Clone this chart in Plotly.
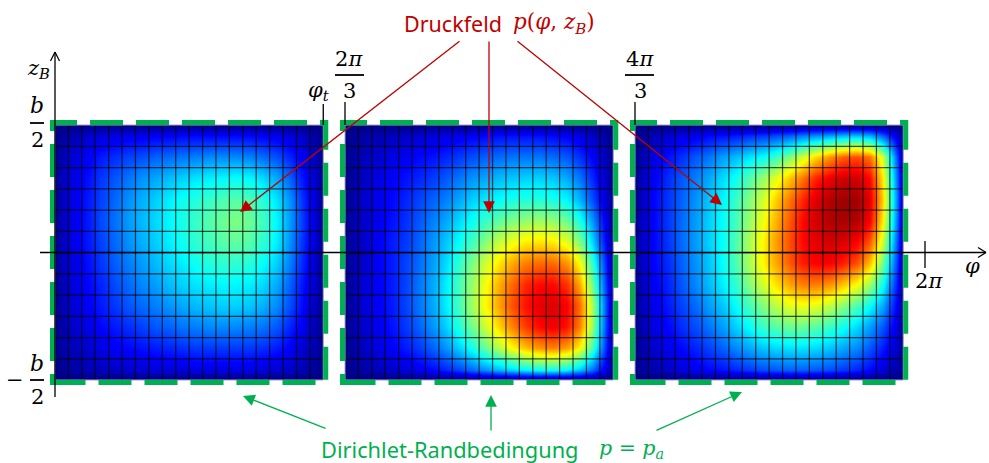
import numpy as np
import plotly.graph_objects as go

# ---- sector geometry: φ in degrees, z_B normalised so that b/2 = 1 ----
SECTOR_START = [0.0, 120.0, 240.0]      # 0, 2π/3, 4π/3
PHI_T = 111.0                            # sector width φ_t
N_PHI, N_Z = 20, 12                      # mesh cells per sector
P_A = 0                                  # ambient pressure on the boundary

# ---- cell-centred pressure (0 … 100), rows from z_B = +b/2 down to −b/2 ----
p_sector1 = [
    [3, 5, 8, 9, 10, 11, 11, 12, 12, 13, 13, 13, 13, 13, 13, 12, 11, 9, 7, 3],
    [5, 9, 12, 15, 17, 19, 20, 22, 23, 24, 25, 26, 26, 26, 25, 23, 20, 16, 11, 5],
    [6, 10, 14, 18, 21, 24, 27, 29, 31, 33, 35, 36, 37, 38, 37, 34, 29, 22, 14, 6],
    [6, 11, 15, 19, 23, 27, 30, 33, 36, 39, 41, 43, 45, 46, 45, 41, 35, 27, 17, 7],
    [6, 11, 15, 20, 24, 28, 31, 34, 37, 40, 43, 46, 48, 50, 48, 44, 37, 28, 18, 7],
    [6, 11, 15, 19, 23, 27, 30, 33, 36, 39, 42, 44, 46, 47, 46, 42, 36, 27, 17, 7],
    [6, 10, 14, 18, 22, 25, 28, 31, 34, 36, 39, 41, 42, 42, 41, 38, 33, 25, 16, 6],
    [5, 10, 13, 16, 20, 23, 26, 28, 31, 33, 35, 36, 37, 37, 36, 34, 29, 22, 14, 6],
    [5, 9, 12, 15, 18, 21, 23, 25, 27, 29, 31, 32, 33, 33, 32, 30, 26, 20, 13, 5],
    [4, 8, 10, 13, 15, 17, 19, 21, 22, 24, 25, 26, 26, 26, 25, 24, 21, 16, 11, 4],
    [4, 6, 8, 10, 12, 13, 14, 15, 16, 17, 18, 18, 18, 18, 18, 17, 15, 12, 8, 4],
    [2, 4, 5, 6, 7, 8, 8, 9, 9, 9, 10, 10, 10, 10, 10, 9, 8, 7, 5, 2],
]
p_sector2 = [
    [2, 4, 5, 6, 7, 8, 9, 10, 11, 12, 13, 14, 14, 14, 14, 13, 12, 10, 7, 3],
    [3, 6, 8, 10, 11, 13, 14, 16, 18, 20, 22, 23, 24, 24, 24, 23, 21, 17, 12, 5],
    [3, 7, 10, 12, 14, 16, 18, 21, 24, 27, 29, 31, 32, 33, 33, 32, 29, 24, 16, 6],
    [4, 8, 11, 13, 16, 19, 22, 25, 29, 33, 36, 38, 40, 41, 41, 40, 37, 30, 20, 7],
    [4, 8, 11, 14, 17, 21, 25, 29, 34, 39, 43, 47, 50, 52, 53, 52, 48, 40, 27, 9],
    [4, 8, 12, 15, 18, 22, 27, 32, 38, 44, 51, 57, 61, 64, 65, 64, 60, 50, 33, 11],
    [4, 8, 12, 15, 19, 23, 28, 34, 42, 50, 58, 65, 71, 75, 77, 77, 73, 62, 42, 14],
    [4, 9, 12, 15, 19, 24, 29, 36, 44, 53, 62, 71, 78, 84, 87, 87, 83, 71, 48, 16],
    [4, 9, 12, 15, 19, 24, 29, 36, 44, 54, 63, 72, 80, 86, 90, 91, 88, 77, 54, 18],
    [4, 8, 11, 14, 18, 22, 27, 33, 41, 49, 58, 67, 75, 82, 87, 89, 86, 75, 52, 17],
    [3, 7, 10, 12, 15, 18, 22, 27, 33, 40, 48, 56, 63, 69, 73, 75, 72, 63, 44, 15],
    [2, 4, 6, 7, 9, 11, 13, 16, 19, 23, 27, 31, 34, 37, 39, 39, 37, 32, 23, 8],
]
p_sector3 = [
    [3, 6, 8, 10, 11, 13, 14, 15, 17, 18, 20, 22, 25, 27, 29, 31, 32, 30, 22, 9],
    [5, 10, 14, 17, 21, 24, 28, 31, 35, 38, 43, 50, 58, 66, 73, 78, 80, 76, 58, 21],
    [6, 12, 17, 21, 25, 29, 34, 39, 45, 52, 60, 68, 76, 84, 89, 92, 92, 87, 64, 24],
    [7, 13, 18, 22, 27, 32, 37, 43, 50, 58, 67, 76, 84, 91, 95, 97, 97, 90, 67, 26],
    [7, 13, 18, 23, 28, 33, 38, 44, 52, 61, 70, 79, 87, 92, 95, 96, 95, 88, 64, 25],
    [7, 13, 18, 23, 28, 33, 38, 45, 54, 63, 72, 80, 87, 90, 92, 91, 88, 79, 58, 22],
    [7, 13, 17, 22, 27, 32, 38, 45, 54, 63, 71, 79, 85, 88, 88, 85, 80, 69, 49, 19],
    [6, 12, 16, 21, 26, 31, 36, 42, 50, 58, 65, 71, 75, 75, 73, 68, 62, 53, 39, 15],
    [6, 11, 15, 19, 23, 28, 32, 38, 44, 50, 56, 60, 61, 60, 56, 51, 45, 38, 29, 12],
    [5, 10, 13, 17, 20, 24, 28, 33, 38, 43, 46, 48, 48, 46, 43, 39, 34, 28, 21, 9],
    [4, 8, 11, 13, 16, 19, 22, 26, 29, 32, 34, 35, 35, 34, 32, 29, 26, 21, 15, 7],
    [3, 5, 7, 9, 11, 13, 14, 16, 18, 20, 21, 22, 22, 21, 20, 18, 16, 13, 9, 4],
]
SECTORS = [p_sector1, p_sector2, p_sector3]

# ---- styling ----
JET = [[0.0, "rgb(0,0,128)"], [0.125, "rgb(0,0,255)"], [0.375, "rgb(0,255,255)"],
       [0.625, "rgb(255,255,0)"], [0.875, "rgb(255,0,0)"], [1.0, "rgb(128,0,0)"]]
RED = "rgb(192,0,0)"
GREEN = "rgb(0,176,80)"
MATH = "DejaVu Serif"
SANS = "Noto Sans"

# ---- canvas: pixel positions -> axis coordinates ----
W, H = 989, 463
PX_ORIGIN, PX_PER_DEG = 55.0, 870.0 / 360.0
PY_ZERO, PX_PER_Z = 252.5, 127.5


def cx(px):
    return (px - PX_ORIGIN) / PX_PER_DEG


def cy(py):
    return (PY_ZERO - py) / PX_PER_Z


fig = go.Figure()
dphi = PHI_T / N_PHI
dz = 2.0 / N_Z
shapes = []
annotations = []

for start, rows in zip(SECTOR_START, SECTORS):
    z = np.array(rows, dtype=float)[::-1]               # bottom row first
    z = np.pad(z, 1, constant_values=P_A)               # Dirichlet boundary p = p_a
    xs = [start] + [start + (i + 0.5) * dphi for i in range(N_PHI)] + [start + PHI_T]
    ys = [-1.0] + [-1.0 + (j + 0.5) * dz for j in range(N_Z)] + [1.0]
    fig.add_trace(go.Heatmap(z=z, x=xs, y=ys, zsmooth="best", colorscale=JET,
                             zmin=0, zmax=100, showscale=False, hoverinfo="skip"))

    # finite-difference mesh
    gx, gy = [], []
    for i in range(1, N_PHI):
        gx += [start + i * dphi, start + i * dphi, None]
        gy += [-1.0, 1.0, None]
    for j in range(1, N_Z):
        gx += [start, start + PHI_T, None]
        gy += [-1.0 + j * dz, -1.0 + j * dz, None]
    fig.add_trace(go.Scatter(x=gx, y=gy, mode="lines", hoverinfo="skip",
                             line=dict(color="rgba(0,0,0,0.68)", width=1.25),
                             showlegend=False))

    # clean frame, thin outline, dashed boundary
    ox, oz = 3.0 / PX_PER_DEG, 3.0 / PX_PER_Z
    shapes.append(dict(type="rect", xref="x", yref="y", layer="above",
                       x0=start - ox, x1=start + PHI_T + ox, y0=-1 - oz, y1=1 + oz,
                       line=dict(color="white", width=6)))
    shapes.append(dict(type="rect", xref="x", yref="y", layer="above",
                       x0=start, x1=start + PHI_T, y0=-1, y1=1,
                       line=dict(color="rgb(160,160,200)", width=1)))
    gxo, gzo = 2.5 / PX_PER_DEG, 2.5 / PX_PER_Z
    shapes.append(dict(type="rect", xref="x", yref="y", layer="above",
                       x0=start - gxo, x1=start + PHI_T + gxo, y0=-1 - gzo, y1=1 + gzo,
                       line=dict(color=GREEN, width=5, dash="33px,13px")))


def seg(x0, y0, x1, y1, width=1.3, color="black"):
    shapes.append(dict(type="line", xref="x", yref="y", layer="above",
                       x0=x0, y0=y0, x1=x1, y1=y1,
                       line=dict(color=color, width=width)))


# axes
seg(cx(40), 0, cx(986), 0, width=1.6)
seg(0, cy(397), 0, cy(52), width=1.3)
# open arrow tips
seg(cx(50.5), cy(61), 0, cy(52)); seg(0, cy(52), cx(59.5), cy(61))
seg(cx(978), cy(247.5), cx(986), 0); seg(cx(986), 0, cx(978), cy(257.5))
# ticks
seg(PHI_T, cy(104), PHI_T, 1.0)
seg(120.0, cy(102), 120.0, 1.0)
seg(240.0, cy(102), 240.0, 1.0)
seg(360.0, cy(241), 360.0, cy(268))
# fraction bars
seg(cx(30), cy(123), cx(44), cy(123), width=1.8)
seg(cx(30), cy(380), cx(44), cy(380), width=1.8)
seg(cx(335), cy(75), cx(364), cy(75), width=1.8)
seg(cx(625), cy(75), cx(654), cy(75), width=1.8)


def label(text, px, py, size=21, family=MATH, color="black", xanchor="center"):
    annotations.append(dict(text=text, x=cx(px), y=cy(py), xref="x", yref="y",
                            showarrow=False, xanchor=xanchor, yanchor="middle",
                            font=dict(family=family, size=size, color=color)))


label("<i>z</i><sub><i>B</i></sub>", 38, 69)
label("<i>b</i>", 37, 105, size=22)
label("2", 37, 140)
label("−", 15, 380)
label("<i>b</i>", 37, 363, size=22)
label("2", 37, 397)
label("<i>φ</i><sub><i>t</i></sub>", 318, 91)
label("2<i>π</i>", 349, 59)
label("3", 349, 91)
label("4<i>π</i>", 640, 59)
label("3", 640, 91)
label("2<i>π</i>", 929, 281)
label("<i>φ</i>", 972, 266)

label("Druckfeld", 504, 23, size=21.5, family=SANS, color=RED, xanchor="right")
label("<i>p</i>(<i>φ</i>, <i>z</i><sub><i>B</i></sub>)", 511, 23, size=21.5, color=RED,
      xanchor="left")
label("Dirichlet-Randbedingung", 319, 449, size=21.8, family=SANS, color=GREEN,
      xanchor="left")
label("<i>p</i> = <i>p</i><sub><i>a</i></sub>", 597, 449, size=20.5, color=GREEN,
      xanchor="left")


def arrow(head, tail, color):
    annotations.append(dict(text="", x=cx(head[0]), y=cy(head[1]),
                            ax=cx(tail[0]), ay=cy(tail[1]),
                            xref="x", yref="y", axref="x", ayref="y",
                            showarrow=True, arrowhead=2, arrowsize=1.8,
                            arrowwidth=1.3, arrowcolor=color, standoff=0))


arrow((240, 212), (461, 40), RED)
arrow((489, 213), (489, 40), RED)
arrow((722, 205), (516, 40), RED)
arrow((243, 396), (327, 429), GREEN)
arrow((491, 395), (491, 432), GREEN)
arrow((742, 392), (655, 431), GREEN)

fig.update_layout(
    width=W, height=H, margin=dict(l=0, r=0, t=0, b=0),
    paper_bgcolor="white", plot_bgcolor="white", showlegend=False,
    xaxis=dict(range=[cx(0), cx(W)], visible=False, fixedrange=True),
    yaxis=dict(range=[cy(H), cy(0)], visible=False, fixedrange=True),
    shapes=shapes, annotations=annotations,
)

fig.write_html("out.html")
